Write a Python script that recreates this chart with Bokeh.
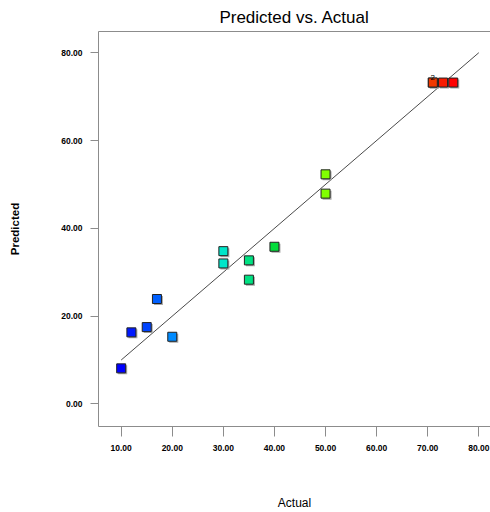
import numpy as np
from bokeh.plotting import figure
from bokeh.models import (Range1d, LinearAxis, FixedTicker, PrintfTickFormatter,
                          ColumnDataSource, LinearColorMapper)
from bokeh.core.properties import value
from bokeh.embed import file_html
from bokeh.resources import INLINE

# ---- data ----
actual = [10, 12, 15, 17, 20, 30, 30, 35, 35, 40, 50, 50, 71, 71, 73, 75]
predicted = [8.1, 16.3, 17.5, 23.9, 15.3, 34.8, 32.0, 32.7, 28.3, 35.8,
             52.3, 47.9, 73.2, 73.2, 73.2, 73.2]
x_ticks = [10, 20, 30, 40, 50, 60, 70, 80]
y_ticks = [0, 20, 40, 60, 80]
line_x = [10, 80]
line_y = [10, 80]
count_x = [71]
count_y = [73.2]
count_text = ["2"]

# ---- styling ----
W, H = 490, 512
FL, FR, FT, FB = 98, 0, 30, 85
x_rng = (5.56, 82.29)
y_rng = (-5.14, 84.83)

stops = [(0.0, (0, 0, 255)), (0.154, (0, 140, 255)), (0.308, (0, 230, 200)),
         (0.46, (0, 220, 60)), (0.615, (128, 255, 0)), (0.78, (255, 200, 0)),
         (0.938, (240, 60, 0)), (1.0, (255, 0, 0))]
palette = []
for t in np.linspace(0, 1, 256):
    for (t0, c0), (t1, c1) in zip(stops[:-1], stops[1:]):
        if t0 <= t <= t1:
            f = (t - t0) / (t1 - t0) if t1 > t0 else 0
            c = [int(round(a + (b - a) * f)) for a, b in zip(c0, c1)]
            palette.append("#%02x%02x%02x" % tuple(c))
            break
mapper = LinearColorMapper(palette=palette, low=min(actual), high=max(actual))

font = "Liberation Sans"

p = figure(width=W, height=H, output_backend="svg", toolbar_location=None,
           x_range=Range1d(*x_rng), y_range=Range1d(*y_rng),
           min_border_left=FL, min_border_right=FR, min_border_top=FT,
           min_border_bottom=FB, x_axis_type=None, y_axis_type=None)
p.outline_line_color = None
p.xgrid.grid_line_color = None
p.ygrid.grid_line_color = None
p.background_fill_color = "white"
p.border_fill_color = "white"

p.title.text = "Predicted vs. Actual"
p.title.align = "center"
p.title.text_font = font
p.title.text_font_size = "17px"
p.title.text_font_style = "normal"
p.title.text_color = "black"
p.title.offset = 6

ax_col = "#8c8c8c"

xa = LinearAxis(ticker=FixedTicker(ticks=x_ticks),
                formatter=PrintfTickFormatter(format="%.2f"),
                axis_label="Actual")
xa.axis_line_color = ax_col
xa.major_tick_line_color = ax_col
xa.major_tick_out = 10
xa.major_tick_in = 0
xa.minor_tick_line_color = None
xa.major_label_text_font = font
xa.major_label_text_font_style = "bold"
xa.major_label_text_font_size = "8.5px"
xa.major_label_text_color = "black"
xa.major_label_standoff = 8
xa.axis_label_text_font = font
xa.axis_label_text_font_style = "normal"
xa.axis_label_text_font_size = "12px"
xa.axis_label_text_color = "black"
xa.axis_label_standoff = 42
p.add_layout(xa, "below")

ya = LinearAxis(ticker=FixedTicker(ticks=y_ticks),
                formatter=PrintfTickFormatter(format="%.2f"),
                axis_label="Predicted")
ya.axis_line_color = ax_col
ya.major_tick_line_color = ax_col
ya.major_tick_out = 8
ya.major_tick_in = 0
ya.minor_tick_line_color = None
ya.major_label_text_font = font
ya.major_label_text_font_style = "bold"
ya.major_label_text_font_size = "8.5px"
ya.major_label_text_color = "black"
ya.major_label_standoff = 8
ya.axis_label_text_font = font
ya.axis_label_text_font_style = "bold"
ya.axis_label_text_font_size = "11.5px"
ya.axis_label_text_color = "black"
ya.axis_label_standoff = 37
p.add_layout(ya, "left")

ta = LinearAxis(ticker=FixedTicker(ticks=[]))
ta.axis_line_color = ax_col
ta.major_tick_line_color = None
ta.minor_tick_line_color = None
ta.major_label_text_font_size = "0px"
p.add_layout(ta, "above")

# reference line
p.line(line_x, line_y, line_color="#4a4a4a", line_width=1)

# points with small shadow
px_x = (W - FL - FR) / (x_rng[1] - x_rng[0])
px_y = (H - FT - FB) / (y_rng[1] - y_rng[0])
src = ColumnDataSource(dict(x=actual, y=predicted,
                            xs=[v + 1.5 / px_x for v in actual],
                            ys=[v - 1.5 / px_y for v in predicted]))
p.scatter("xs", "ys", source=src, marker="square", size=9,
          fill_color="#a8a8a8", line_color=None)
p.scatter("x", "y", source=src, marker="square", size=9,
          fill_color={"field": "x", "transform": mapper},
          line_color="#222222", line_width=1)

p.text(count_x, count_y, text=count_text, text_font=value(font),
       text_font_size="8px", text_color="black", text_align="center",
       text_baseline="bottom", y_offset=-3)

open("out.html", "w").write(file_html(p, INLINE))
